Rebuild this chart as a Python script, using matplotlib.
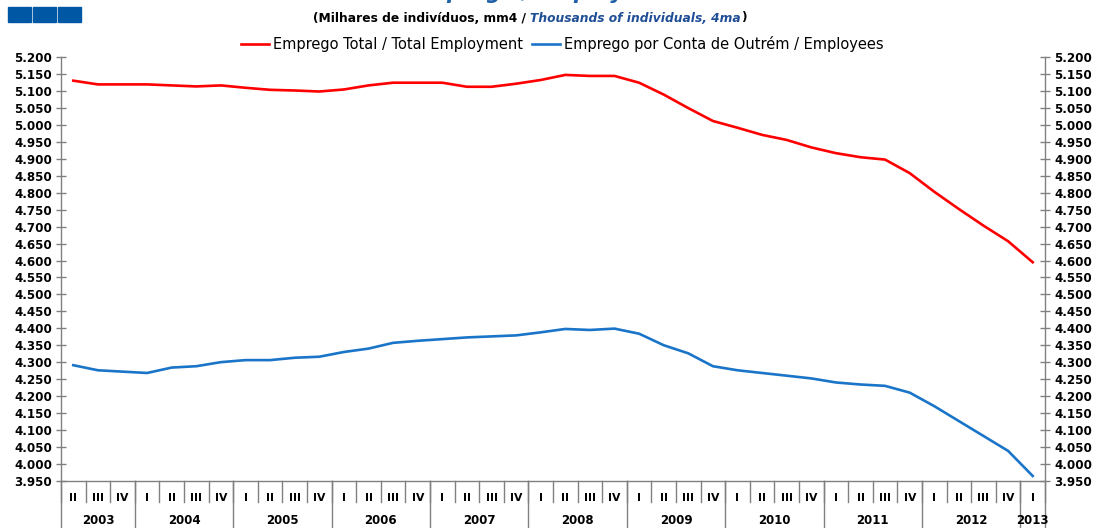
import matplotlib
matplotlib.use("Agg")
import matplotlib.pyplot as plt
from matplotlib.patches import Rectangle
from matplotlib.ticker import MultipleLocator, FuncFormatter

# quarterly series, thousands of individuals (4-quarter moving average)
quarters = (["II", "III", "IV"] + ["I", "II", "III", "IV"] * 9 + ["I"])
years = ["2003", "2004", "2005", "2006", "2007", "2008", "2009",
         "2010", "2011", "2012", "2013"]
year_counts = [3, 4, 4, 4, 4, 4, 4, 4, 4, 4, 1]

total_employment = [5131, 5120, 5120,
                    5120, 5117, 5114, 5117,
                    5110, 5104, 5102, 5099,
                    5105, 5117, 5125, 5125,
                    5125, 5113, 5113, 5122,
                    5133, 5148, 5145, 5145,
                    5125, 5090, 5050, 5012,
                    4992, 4971, 4956, 4934,
                    4917, 4905, 4898, 4858,
                    4803, 4752, 4703, 4657,
                    4595]
employees = [4291, 4276, 4272,
             4268, 4284, 4288, 4300,
             4306, 4306, 4313, 4316,
             4330, 4340, 4357, 4363,
             4368, 4373, 4376, 4379,
             4388, 4398, 4395, 4399,
             4384, 4350, 4326, 4288,
             4276, 4268, 4260, 4252,
             4240, 4234, 4230, 4210,
             4170, 4126, 4082, 4038,
             3964]

RED = "#ff0000"
BLUE = "#1a75c9"
GREY = "#808080"
W, H = 1103, 528

fig = plt.figure(figsize=(W / 100, H / 100), dpi=100)
ax = fig.add_axes([61 / W, (H - 480.7) / H, (1045 - 61) / W, (480.7 - 57.3) / H])

x = list(range(len(quarters)))
ax.plot(x, total_employment, color=RED, lw=1.9, label="Emprego Total / Total Employment")
ax.plot(x, employees, color=BLUE, lw=1.9, label="Emprego por Conta de Outrém / Employees")

ax.set_xlim(-0.5, len(quarters) - 0.5)
ax.set_ylim(3950, 5200)
ax.yaxis.set_major_locator(MultipleLocator(50))
ax.yaxis.set_major_formatter(FuncFormatter(lambda v, p: f"{v:,.0f}".replace(",", ".")))
ax.set_xticks([])

ax.spines["top"].set_visible(False)
for s in ["left", "right", "bottom"]:
    ax.spines[s].set_color(GREY)
    ax.spines[s].set_linewidth(1)

ax.tick_params(axis="y", which="both", direction="inout", length=7, width=1,
               color=GREY, left=True, right=True, labelleft=True, labelright=True,
               pad=3)
for lab in ax.get_yticklabels():
    lab.set_fontweight("bold")
    lab.set_fontsize(8.6)

# category axis: quarter row and year row
tr = ax.get_xaxis_transform()
q_bottom = -21.5 / 423.4
fig_bottom = -47.5 / 423.4
for i in range(len(quarters) + 1):
    ax.plot([i - 0.5, i - 0.5], [0, q_bottom], color=GREY, lw=1, transform=tr, clip_on=False)
for i, q in enumerate(quarters):
    ax.text(i, -17.5 / 423.4, q, transform=tr, ha="center", va="center",
            fontsize=7.8, fontweight="bold")
start = 0
for yr, n in zip(years, year_counts):
    ax.plot([start - 0.5, start - 0.5], [0, fig_bottom], color=GREY, lw=1,
            transform=tr, clip_on=False)
    ax.text(start - 0.5 + n / 2, -39.5 / 423.4, yr, transform=tr, ha="center",
            va="center", fontsize=8.5, fontweight="bold")
    start += n
ax.plot([start - 0.5, start - 0.5], [0, fig_bottom], color=GREY, lw=1,
        transform=tr, clip_on=False)

# header: logo squares, title (cut by the top edge as in the source), subtitle
for k in range(3):
    fig.patches.append(Rectangle(((8 + 25 * k) / W, (H - 22) / H), 23 / W, 15 / H,
                                 transform=fig.transFigure, color="#0057a3"))
fig.text(548 / W, 1 + 1 / H, "Emprego / Employment", ha="center", va="baseline",
         fontsize=15, fontweight="bold", style="italic", color="#1f5fa8")

t1 = fig.text(313 / W, 1 - 18 / H, "(Milhares de indivíduos, mm4 / ", ha="left",
              va="center", fontsize=8.8, fontweight="bold")
fig.canvas.draw()
bb = t1.get_window_extent()
t2 = fig.text(bb.x1 / W, 1 - 18 / H, "Thousands of individuals, 4ma", ha="left",
              va="center", fontsize=8.8, fontweight="bold", style="italic", color="#1f4e96")
bb2 = t2.get_window_extent()
fig.text(bb2.x1 / W, 1 - 18 / H, ")", ha="left", va="center", fontsize=8.8,
         fontweight="bold")

fig.legend(loc="center", bbox_to_anchor=(562 / W, 1 - 44 / H), ncol=2,
           frameon=False, fontsize=10.5, handlelength=1.95, handletextpad=0.25,
           columnspacing=0.6, borderpad=0)

fig.savefig("out.png", dpi=100)
